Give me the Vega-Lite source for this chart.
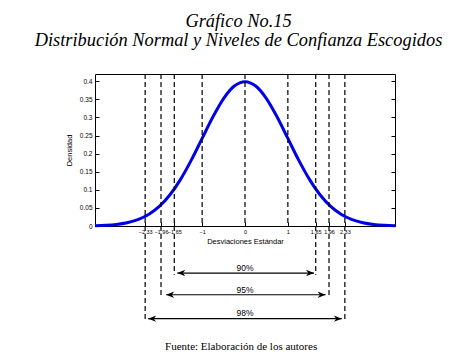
{
  "$schema": "https://vega.github.io/schema/vega-lite/v6.json",
  "autosize": "none",
  "width": 300,
  "height": 152,
  "padding": {"left": 95, "top": 74, "right": 72, "bottom": 133},
  "background": "white",
  "config": {
    "view": {"stroke": "#000", "strokeWidth": 1},
    "axis": {"grid": false, "domain": false, "tickColor": "#000", "labelColor": "#000", "titleColor": "#000", "labelFont": "Liberation Sans", "titleFont": "Liberation Sans", "titleFontWeight": "normal"}
  },
  "title": {
    "text": ["Gráfico No.15", "Distribución Normal y Niveles de Confianza Escogidos"],
    "font": "Liberation Serif",
    "fontStyle": "italic",
    "fontWeight": "normal",
    "fontSize": 18.4,
    "lineHeight": 19.5,
    "color": "#000",
    "anchor": "middle",
    "dx": -6.5,
    "offset": 24
  },
  "datasets": {
    "curve": [
      {"x": -3.5, "y": 0.0009}, {"x": -3.25, "y": 0.0020}, {"x": -3.0, "y": 0.0044}, {"x": -2.75, "y": 0.0091},
      {"x": -2.5, "y": 0.0175}, {"x": -2.25, "y": 0.0317}, {"x": -2.0, "y": 0.0540}, {"x": -1.75, "y": 0.0863},
      {"x": -1.5, "y": 0.1295}, {"x": -1.25, "y": 0.1826}, {"x": -1.0, "y": 0.2420}, {"x": -0.75, "y": 0.3011},
      {"x": -0.5, "y": 0.3521}, {"x": -0.25, "y": 0.3867}, {"x": 0.0, "y": 0.3989}, {"x": 0.25, "y": 0.3867},
      {"x": 0.5, "y": 0.3521}, {"x": 0.75, "y": 0.3011}, {"x": 1.0, "y": 0.2420}, {"x": 1.25, "y": 0.1826},
      {"x": 1.5, "y": 0.1295}, {"x": 1.75, "y": 0.0863}, {"x": 2.0, "y": 0.0540}, {"x": 2.25, "y": 0.0317},
      {"x": 2.5, "y": 0.0175}, {"x": 2.75, "y": 0.0091}, {"x": 3.0, "y": 0.0044}, {"x": 3.25, "y": 0.0020},
      {"x": 3.5, "y": 0.0009}
    ],
    "vlines": [
      {"x": -2.33, "ytop": 0.42, "ybot": -0.265},
      {"x": -1.96, "ytop": 0.42, "ybot": -0.195},
      {"x": -1.65, "ytop": 0.42, "ybot": -0.135},
      {"x": -1, "ytop": 0.42, "ybot": 0},
      {"x": 0, "ytop": 0.42, "ybot": 0},
      {"x": 1, "ytop": 0.42, "ybot": 0},
      {"x": 1.65, "ytop": 0.42, "ybot": -0.135},
      {"x": 1.96, "ytop": 0.42, "ybot": -0.195},
      {"x": 2.33, "ytop": 0.42, "ybot": -0.265}
    ],
    "arrows": [
      {"label": "90%", "x1": -1.58, "x2": 1.61, "y": -0.130, "ty": -0.117},
      {"label": "95%", "x1": -1.84, "x2": 1.88, "y": -0.190, "ty": -0.178},
      {"label": "98%", "x1": -2.26, "x2": 2.26, "y": -0.256, "ty": -0.241}
    ],
    "footer": [
      {"text": "Fuente: Elaboración de los autores", "x": -0.09, "y": -0.333}
    ]
  },
  "resolve": {"axis": {"y": "independent", "x": "independent"}},
  "layer": [
    {
      "data": {"name": "curve"},
      "mark": {"type": "line", "color": "#0000e6", "strokeWidth": 3, "interpolate": "monotone"},
      "encoding": {
        "x": {"field": "x", "type": "quantitative", "scale": {"domain": [-3.5, 3.5], "nice": false, "zero": false},
          "axis": {"title": "Desviaciones Estándar", "titleFontSize": 7.5, "titlePadding": 2.5, "values": [-2.33, -1.96, -1.65, -1, 0, 1, 1.65, 1.96, 2.33],
            "labelExpr": "datum.value == 0 ? '0' : format(datum.value, '.3~g')", "labelFontSize": 5.5, "labelOverlap": false, "labelPadding": 7.5, "tickSize": -4, "labelFlush": false}},
        "y": {"field": "y", "type": "quantitative", "scale": {"domain": [0, 0.42], "nice": false, "zero": false},
          "axis": {"title": "Densidad", "titleFontSize": 7.5, "titlePadding": 6, "values": [0, 0.05, 0.1, 0.15, 0.2, 0.25, 0.3, 0.35, 0.4],
            "format": ".2~f", "labelFontSize": 6.5, "labelPadding": 7, "tickSize": -4}}
      }
    },
    {
      "data": {"name": "vlines"},
      "mark": {"type": "rule", "color": "#000", "strokeWidth": 1.2, "strokeDash": [5, 3]},
      "encoding": {
        "x": {"field": "x", "type": "quantitative", "scale": {"domain": [-3.5, 3.5], "nice": false, "zero": false}, "axis": null},
        "y": {"field": "ytop", "type": "quantitative", "scale": {"domain": [0, 0.42], "nice": false, "zero": false},
          "axis": {"orient": "right", "title": null, "labels": false, "values": [0, 0.05, 0.1, 0.15, 0.2, 0.25, 0.3, 0.35, 0.4], "tickSize": -4}},
        "y2": {"field": "ybot"}
      }
    },
    {
      "data": {"name": "arrows"},
      "mark": {"type": "rule", "color": "#000", "strokeWidth": 1.2},
      "encoding": {
        "x": {"field": "x1", "type": "quantitative", "scale": {"domain": [-3.5, 3.5], "nice": false, "zero": false}, "axis": null},
        "x2": {"field": "x2"},
        "y": {"field": "y", "type": "quantitative", "scale": {"domain": [0, 0.42], "nice": false, "zero": false}, "axis": null}
      }
    },
    {
      "data": {"name": "arrows"},
      "mark": {"type": "point", "shape": "M0,0 L2,-0.8 L1.4,0 L2,0.8 Z", "size": 64, "filled": true, "color": "#000", "opacity": 1},
      "encoding": {
        "x": {"field": "x1", "type": "quantitative", "scale": {"domain": [-3.5, 3.5], "nice": false, "zero": false}, "axis": null},
        "y": {"field": "y", "type": "quantitative", "scale": {"domain": [0, 0.42], "nice": false, "zero": false}, "axis": null}
      }
    },
    {
      "data": {"name": "arrows"},
      "mark": {"type": "point", "shape": "M0,0 L-2,-0.8 L-1.4,0 L-2,0.8 Z", "size": 64, "filled": true, "color": "#000", "opacity": 1},
      "encoding": {
        "x": {"field": "x2", "type": "quantitative", "scale": {"domain": [-3.5, 3.5], "nice": false, "zero": false}, "axis": null},
        "y": {"field": "y", "type": "quantitative", "scale": {"domain": [0, 0.42], "nice": false, "zero": false}, "axis": null}
      }
    },
    {
      "data": {"name": "arrows"},
      "mark": {"type": "text", "font": "Liberation Sans", "fontSize": 8.5, "color": "#000", "baseline": "middle", "align": "center"},
      "encoding": {
        "x": {"datum": 0, "type": "quantitative", "scale": {"domain": [-3.5, 3.5], "nice": false, "zero": false}, "axis": null},
        "y": {"field": "ty", "type": "quantitative", "scale": {"domain": [0, 0.42], "nice": false, "zero": false}, "axis": null},
        "text": {"field": "label"}
      }
    },
    {
      "data": {"name": "footer"},
      "mark": {"type": "text", "font": "Liberation Serif", "fontSize": 11, "color": "#000", "baseline": "middle", "align": "center"},
      "encoding": {
        "x": {"field": "x", "type": "quantitative", "scale": {"domain": [-3.5, 3.5], "nice": false, "zero": false}, "axis": null},
        "y": {"field": "y", "type": "quantitative", "scale": {"domain": [0, 0.42], "nice": false, "zero": false}, "axis": null},
        "text": {"field": "text"}
      }
    }
  ]
}
